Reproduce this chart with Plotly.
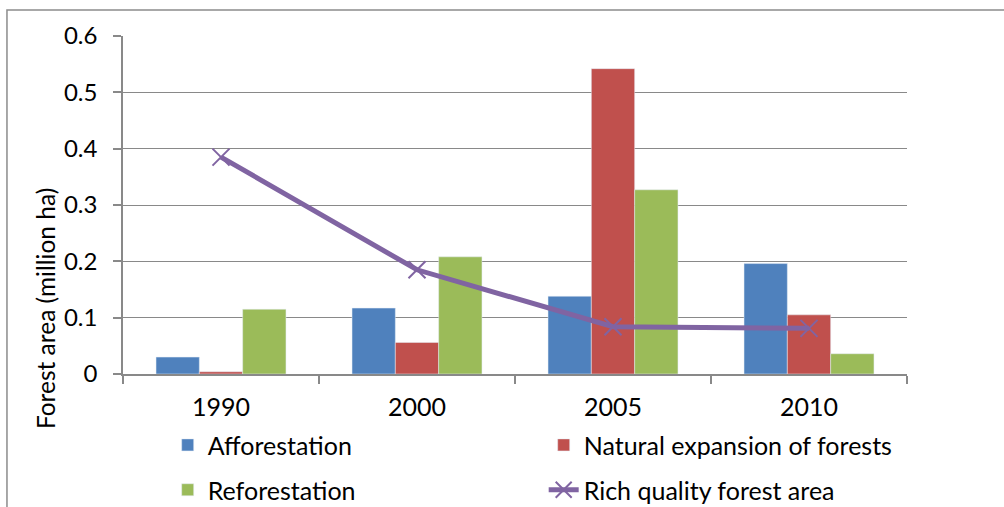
import plotly.graph_objects as go

# Forest area by year (million ha)
years = ["1990", "2000", "2005", "2010"]
afforestation = [0.030, 0.117, 0.138, 0.196]
natural_expansion = [0.004, 0.056, 0.542, 0.105]
reforestation = [0.115, 0.208, 0.327, 0.036]
rich_quality = [0.385, 0.185, 0.084, 0.081]

BLUE = "#4F81BD"
RED = "#C0504D"
GREEN = "#9BBB59"
PURPLE = "#8064A2"
GRID = "#898989"
FONT = "Lato, Open Sans, sans-serif"

fig = go.Figure()
fig.add_trace(go.Bar(x=years, y=afforestation, name="Afforestation",
                     marker_color=BLUE, legend="legend"))
fig.add_trace(go.Bar(x=years, y=natural_expansion, name="Natural expansion of forests",
                     marker_color=RED, legend="legend"))
fig.add_trace(go.Bar(x=years, y=reforestation, name="Reforestation",
                     marker_color=GREEN, legend="legend2"))
fig.add_trace(go.Scatter(x=years, y=rich_quality, name="Rich quality forest area",
                         mode="lines+markers",
                         line=dict(color=PURPLE, width=5),
                         marker=dict(symbol="x-thin", size=17,
                                     line=dict(width=2, color=PURPLE)),
                         legend="legend2"))

legend_common = dict(orientation="h", xanchor="left", yanchor="middle",
                     x=0.057, yref="container", entrywidth=331, entrywidthmode="pixels",
                     font=dict(family=FONT, size=25, color="#000000"),
                     bgcolor="rgba(0,0,0,0)", traceorder="normal")

fig.update_layout(
    width=1004, height=507,
    margin=dict(l=123, r=97, t=36, b=133, autoexpand=False),
    paper_bgcolor="white", plot_bgcolor="white",
    barmode="group", bargap=0.337, bargroupgap=0,
    font=dict(family=FONT, size=24, color="#000000"),
    legend=dict(y=0.122, **legend_common),
    legend2=dict(y=0.0335, **legend_common),
    xaxis=dict(type="category", showline=True, linecolor=GRID, linewidth=1.5,
               ticks="outside", tickson="boundaries", ticklen=8, tickcolor=GRID,
               tickwidth=1.5, showgrid=False, ticklabelstandoff=10,
               tickfont=dict(family=FONT, size=25)),
    yaxis=dict(range=[0, 0.6], dtick=0.1, showline=True, linecolor=GRID, linewidth=1.5,
               ticks="outside", ticklen=8, tickcolor=GRID, tickwidth=1.5,
               showgrid=True, gridcolor=GRID, gridwidth=1.3, zeroline=False,
               ticklabelstandoff=11, tickfont=dict(family=FONT, size=24)),
    annotations=[dict(text="Forest area (million ha)", textangle=-90,
                      xref="paper", yref="paper", x=-0.0995, y=0.195,
                      xanchor="center", yanchor="middle",
                      showarrow=False, font=dict(family=FONT, size=24.5))],
    shapes=[dict(type="rect", xref="paper", yref="paper",
                 x0=-0.148, x1=1.3, y0=-0.6, y1=1.077,
                 line=dict(color="#8c8c8c", width=1.5), layer="below")],
)

fig.write_html("out.html")
